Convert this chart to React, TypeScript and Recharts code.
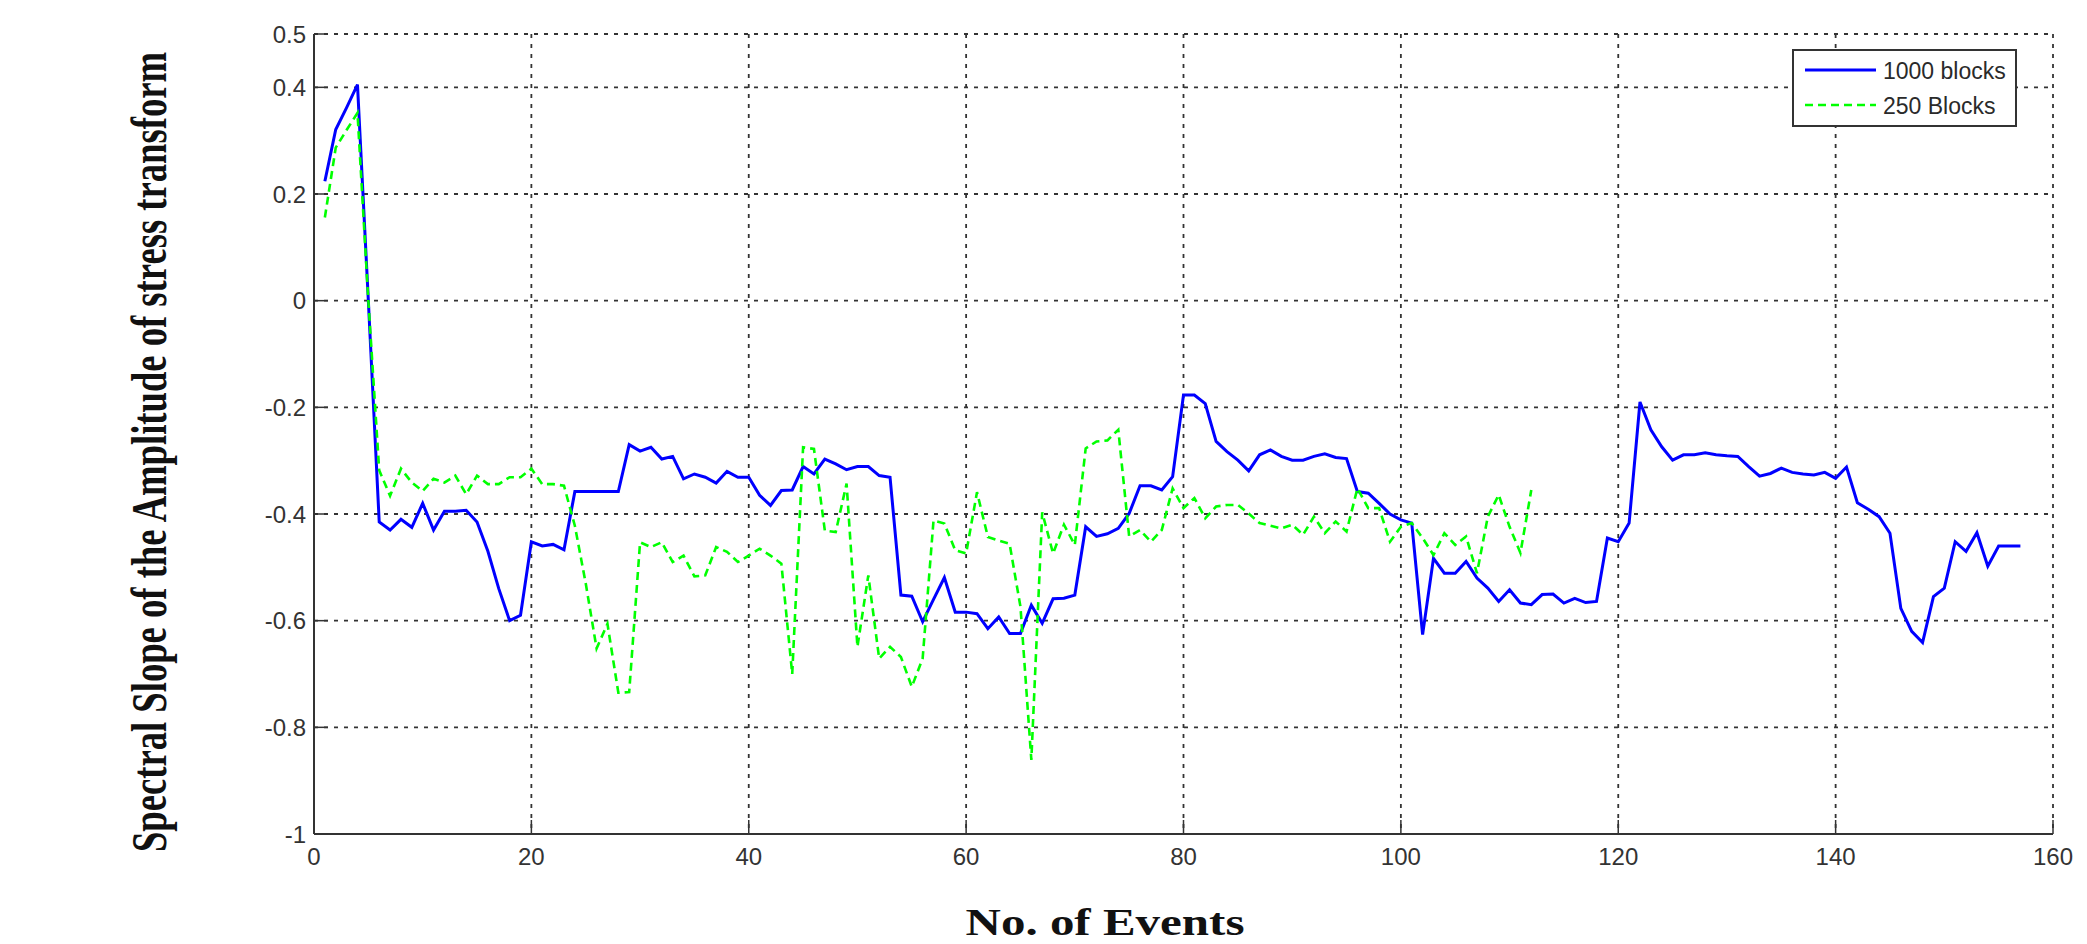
import {
  CartesianGrid,
  Legend,
  Line,
  LineChart,
  XAxis,
  YAxis,
} from "recharts";

// Spectral slope per event.
const SLOPE_1000_BLOCKS = [
  0.224, 0.321, 0.362, 0.405, 0.0, -0.415, -0.43, -0.41, -0.425, -0.38,
  -0.43, -0.395, -0.395, -0.393, -0.415, -0.47, -0.54, -0.6, -0.59, -0.452,
  -0.46, -0.457, -0.467, -0.358, -0.358, -0.358, -0.358, -0.358, -0.27, -0.282,
  -0.275, -0.297, -0.292, -0.334, -0.325, -0.331, -0.342, -0.32, -0.331, -0.331,
  -0.365, -0.384, -0.356, -0.355, -0.311, -0.325, -0.297, -0.306, -0.317, -0.311,
  -0.311, -0.328, -0.331, -0.552, -0.554, -0.602, -0.56, -0.519, -0.584, -0.584,
  -0.587, -0.615, -0.593, -0.624, -0.624, -0.571, -0.605, -0.559, -0.558, -0.552,
  -0.424, -0.442, -0.437, -0.427, -0.399, -0.347, -0.347, -0.355, -0.33, -0.177,
  -0.177, -0.193, -0.264, -0.283, -0.299, -0.319, -0.289, -0.28, -0.292, -0.299,
  -0.299, -0.292, -0.287, -0.294, -0.296, -0.358, -0.361, -0.38, -0.4, -0.411,
  -0.417, -0.626, -0.483, -0.511, -0.511, -0.489, -0.52, -0.539, -0.564, -0.542,
  -0.567, -0.57, -0.551, -0.55, -0.567, -0.558, -0.566, -0.564, -0.445, -0.452,
  -0.417, -0.19, -0.242, -0.274, -0.299, -0.289, -0.289, -0.285, -0.289, -0.291,
  -0.292, -0.311, -0.329, -0.324, -0.314, -0.322, -0.325, -0.327, -0.322, -0.333,
  -0.312, -0.379, -0.391, -0.405, -0.436, -0.577, -0.62, -0.641, -0.555, -0.539,
  -0.452, -0.47, -0.435, -0.498, -0.46, -0.46, -0.46,
];

const SLOPE_250_BLOCKS = [
  0.156, 0.287, 0.32, 0.352, 0.0, -0.318, -0.366, -0.315, -0.341, -0.357,
  -0.334, -0.341, -0.328, -0.363, -0.328, -0.344, -0.344, -0.331, -0.331, -0.315,
  -0.344, -0.344, -0.347, -0.422, -0.53, -0.652, -0.606, -0.735, -0.734, -0.453,
  -0.462, -0.453, -0.49, -0.478, -0.517, -0.515, -0.462, -0.471, -0.49, -0.478,
  -0.465, -0.478, -0.493, -0.7, -0.275, -0.278, -0.431, -0.434, -0.343, -0.649,
  -0.515, -0.671, -0.649, -0.668, -0.724, -0.671, -0.412, -0.418, -0.468, -0.474,
  -0.359, -0.443, -0.45, -0.456, -0.574, -0.861, -0.397, -0.474, -0.42, -0.458,
  -0.277, -0.264, -0.262, -0.242, -0.442, -0.43, -0.452, -0.43, -0.352, -0.389,
  -0.37, -0.408, -0.386, -0.383, -0.383, -0.399, -0.417, -0.422, -0.427, -0.42,
  -0.439, -0.405, -0.436, -0.414, -0.433, -0.352, -0.389, -0.389, -0.452, -0.424,
  -0.417, -0.445, -0.477, -0.436, -0.458, -0.442, -0.511, -0.405, -0.364, -0.424,
  -0.473, -0.355,
];

const X_TICKS = [0, 20, 40, 60, 80, 100, 120, 140, 160];
const Y_TICKS = [-1, -0.8, -0.6, -0.4, -0.2, 0, 0.2, 0.4, 0.5];

const SERIES = [
  { name: "1000 blocks", values: SLOPE_1000_BLOCKS, color: "#0000ff", dash: undefined as string | undefined, width: 3 },
  { name: "250 Blocks", values: SLOPE_250_BLOCKS, color: "#00ff00", dash: "8 5", width: 2.6 },
];

const WIDTH = 2087;
const HEIGHT = 944;

const AXIS_COLOR = "#333";
const GRID_COLOR = "#333";
const TICK_FONT = "'Liberation Sans', Arial, sans-serif";
const LABEL_FONT = "'Liberation Serif', 'Times New Roman', serif";
const TICK_LEN = 14;

const toPoints = (values: number[]) => values.map((y, i) => ({ x: i + 1, y }));

const BottomTick = (props: any) => {
  const { x, y, payload } = props;
  return (
    <g>
      <line x1={x} y1={y} x2={x} y2={y - TICK_LEN} stroke={AXIS_COLOR} strokeWidth={1.5} />
      <text x={x} y={y + 31} textAnchor="middle" fontSize={24} fill="#333" fontFamily={TICK_FONT}>
        {payload.value}
      </text>
    </g>
  );
};

const LeftTick = (props: any) => {
  const { x, y, payload } = props;
  return (
    <g>
      <line x1={x} y1={y} x2={x + TICK_LEN} y2={y} stroke={AXIS_COLOR} strokeWidth={1.5} />
      <text x={x - 8} y={y} textAnchor="end" dominantBaseline="central" fontSize={24} fill="#333" fontFamily={TICK_FONT}>
        {String(payload.value)}
      </text>
    </g>
  );
};

const TopTick = (props: any) => {
  const { x, y } = props;
  return <line x1={x} y1={y} x2={x} y2={y + TICK_LEN} stroke={AXIS_COLOR} strokeWidth={1.5} />;
};

const RightTick = (props: any) => {
  const { x, y } = props;
  return <line x1={x} y1={y} x2={x - TICK_LEN} y2={y} stroke={AXIS_COLOR} strokeWidth={1.5} />;
};

const renderLegend = () => (
  <div
    style={{
      width: 225,
      height: 78,
      boxSizing: "border-box",
      border: `2px solid ${AXIS_COLOR}`,
      background: "#fff",
    }}
  >
    <svg width={221} height={74} style={{ display: "block" }}>
      {SERIES.map((s, i) => {
        const cy = 19 + i * 35;
        return (
          <g key={s.name}>
            <line x1={11} y1={cy} x2={82} y2={cy} stroke={s.color} strokeWidth={s.width} strokeDasharray={s.dash} />
            <text x={89} y={cy + 1} dominantBaseline="central" fontSize={23} fill="#2a2a2a" fontFamily={TICK_FONT}>
              {s.name}
            </text>
          </g>
        );
      })}
    </svg>
  </div>
);

// rotated around its own origin so the text box sits inside the picture
const YLabel = () => (
  <g transform="translate(166 452) rotate(-90)">
    <text
      x={0}
      y={0}
      textAnchor="middle"
      fontSize={50}
      fontWeight="bold"
      fontFamily={LABEL_FONT}
      fill="#111"
      textLength={800}
      lengthAdjust="spacingAndGlyphs"
    >
      Spectral Slope of the Amplitude of stress transform
    </text>
  </g>
);

const XLabel = () => (
  <text
    x={1105}
    y={935}
    textAnchor="middle"
    fontSize={38}
    fontWeight="bold"
    fontFamily={LABEL_FONT}
    fill="#111"
    textLength={279}
    lengthAdjust="spacingAndGlyphs"
  >
    No. of Events
  </text>
);

export default function App() {
  return (
    <div style={{ position: "absolute", left: 0, top: 0, width: WIDTH, height: HEIGHT, background: "#fff" }}>
      <LineChart width={WIDTH} height={HEIGHT} margin={{ top: 34, right: 34, bottom: 0, left: 0 }}>
        <CartesianGrid horizontal vertical={false} stroke={GRID_COLOR} strokeWidth={1.8} strokeDasharray="4 6" />
        <CartesianGrid horizontal={false} vertical stroke={GRID_COLOR} strokeWidth={1.8} strokeDasharray="4 6" />
        <XAxis
          type="number"
          dataKey="x"
          domain={[0, 160]}
          ticks={X_TICKS}
          interval={0}
          height={110}
          tickSize={0}
          tickMargin={0}
          tick={<BottomTick />}
          axisLine={{ stroke: AXIS_COLOR, strokeWidth: 2 }}
          label={<XLabel />}
        />
        <XAxis
          xAxisId="top"
          orientation="top"
          type="number"
          dataKey="x"
          domain={[0, 160]}
          ticks={X_TICKS}
          interval={0}
          height={0}
          tickSize={0}
          tickMargin={0}
          tick={<TopTick />}
          axisLine={{ stroke: AXIS_COLOR, strokeWidth: 2 }}
        />
        <YAxis
          type="number"
          domain={[-1, 0.5]}
          ticks={Y_TICKS}
          interval={0}
          width={314}
          tickSize={0}
          tickMargin={0}
          tick={<LeftTick />}
          axisLine={{ stroke: AXIS_COLOR, strokeWidth: 2 }}
          label={<YLabel />}
        />
        <YAxis
          yAxisId="right"
          orientation="right"
          type="number"
          domain={[-1, 0.5]}
          ticks={Y_TICKS}
          interval={0}
          width={0}
          tickSize={0}
          tickMargin={0}
          tick={<RightTick />}
          axisLine={{ stroke: AXIS_COLOR, strokeWidth: 2 }}
        />
        <Legend
          layout="horizontal"
          verticalAlign="middle"
          align="center"
          content={renderLegend}
          wrapperStyle={{ left: 1792, top: 49, width: 225, height: 78 }}
        />
        {SERIES.map((s) => (
          <Line
            key={s.name}
            name={s.name}
            data={toPoints(s.values)}
            dataKey="y"
            type="linear"
            stroke={s.color}
            strokeWidth={s.width}
            strokeDasharray={s.dash}
            dot={false}
            activeDot={false}
            isAnimationActive={false}
          />
        ))}
      </LineChart>
    </div>
  );
}
